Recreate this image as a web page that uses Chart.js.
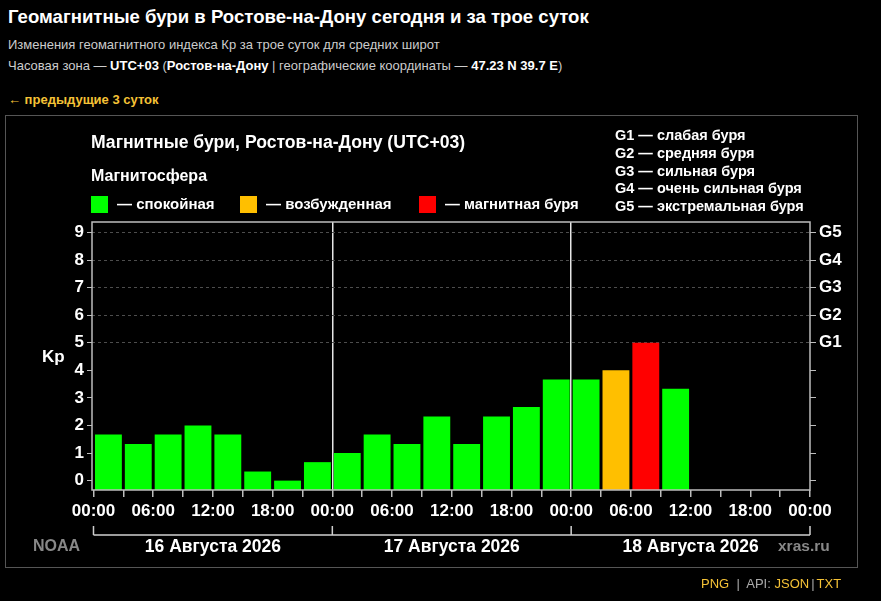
<!DOCTYPE html>
<html>
<head>
<meta charset="utf-8">
<script src="https://cdn.jsdelivr.net/npm/chart.js@4"></script>
<style>
  html, body { margin: 0; padding: 0; background: #000; }
  body { width: 881px; height: 601px; position: relative; overflow: hidden;
         font-family: "Liberation Sans", Arial, sans-serif; color: #fff; }
  .abs { position: absolute; white-space: nowrap; }
  .h1 { left: 8px; top: 5px; font-size: 18.6px; font-weight: bold; line-height: 24px; }
  .sub { left: 8px; font-size: 13px; color: #ccc; line-height: 16px; }
  .sub b { color: #fff; }
  .link { color: #f5c236; }
  #panel { position: absolute; left: 5px; top: 115px; width: 851px; height: 451px; border: 1px solid #555; }
  .sq { position: absolute; width: 17px; height: 17px; top: 196px; }
  .lg { font-size: 15px; font-weight: bold; line-height: 18px; }
  .glist { left: 615px; top: 127px; font-size: 14.5px; font-weight: bold; line-height: 17.8px; }
  .gray { color: #888; font-weight: bold; font-size: 16px; }
  canvas { position: absolute; left: 0; top: 0; }
</style>
</head>
<body>
<div class="abs h1">Геомагнитные бури в Ростове-на-Дону сегодня и за трое суток</div>
<div class="abs sub" style="top:37px">Изменения геомагнитного индекса Кр за трое суток для средних широт</div>
<div class="abs sub" style="top:58px">Часовая зона — <b>UTC+03</b> (<b>Ростов-на-Дону</b> | географические координаты — <b>47.23 N 39.7 E</b>)</div>
<div class="abs sub link" style="top:92px;font-weight:bold">← предыдущие 3 суток</div>

<div id="panel"></div>
<canvas id="kpChart" width="881" height="601"></canvas>

<div class="abs" style="left:91px;top:132px;font-size:17.6px;font-weight:bold;line-height:20px">Магнитные бури, Ростов-на-Дону (UTC+03)</div>
<div class="abs" style="left:91px;top:166px;font-size:16px;font-weight:bold;line-height:20px">Магнитосфера</div>
<div class="sq" style="left:91px;background:#00ff00"></div>
<div class="abs lg" style="left:117px;top:195px">— спокойная</div>
<div class="sq" style="left:240px;background:#ffbf00"></div>
<div class="abs lg" style="left:266px;top:195px">— возбужденная</div>
<div class="sq" style="left:419px;background:#ff0000"></div>
<div class="abs lg" style="left:445px;top:195px;font-size:14.8px">— магнитная буря</div>
<div class="abs glist">G1 — слабая буря<br>G2 — средняя буря<br>G3 — сильная буря<br>G4 — очень сильная буря<br>G5 — экстремальная буря</div>

<div class="abs" style="left:42px;top:347px;font-size:17px;font-weight:bold;line-height:20px">Kp</div>
<div class="abs gray" style="left:33px;top:537px">NOAA</div>
<div class="abs gray" style="left:778px;top:537px;font-size:15.5px">xras.ru</div>

<div class="abs" style="left:701px;top:576px;font-size:13px;color:#aaa;line-height:16px"><span class="link">PNG</span> &nbsp;|&nbsp; API: <span class="link">JSON</span><span style="margin:0 2px">|</span><span class="link">TXT</span></div>

<script>
// Kp index, one value per 3-hour interval (UTC+03), starting 16 Aug 00:00
const kpValues = [
    1.67, 1.33, 1.67, 2.0, 1.67, 0.33, 0.0, 0.67,
    1.0, 1.67, 1.33, 2.33, 1.33, 2.33, 2.67, 3.67,
    3.67, 4.0, 5.0, 3.33
];
const dayLabels = ['16 Августа 2026', '17 Августа 2026', '18 Августа 2026'];
const stormLabels = ['G1', 'G2', 'G3', 'G4', 'G5'];
const kpTicks = [0, 1, 2, 3, 4, 5, 6, 7, 8, 9];

const Y_MIN = -0.34;
const Y_MAX = 9.38;

function kpColor(v) {
    if (v >= 5) return '#ff0000';
    if (v >= 4) return '#ffbf00';
    return '#00ff00';
}

function hourLabel(h) {
    const hh = h % 24;
    return (hh < 10 ? '0' : '') + hh + ':00';
}

// frame round the plot area, plus the day bracket under the time labels
const framePlugin = {
    id: 'frame',
    afterDraw(chart) {
        const ctx = chart.ctx;
        const a = chart.chartArea;
        const x = chart.scales.x;
        ctx.save();
        ctx.strokeStyle = '#bdbdbd';
        ctx.lineWidth = 1.5;
        ctx.strokeRect(a.left, a.top, a.right - a.left, a.bottom - a.top);

        const yLine = 535;
        ctx.strokeStyle = '#cfcfcf';
        ctx.lineWidth = 1.5;
        ctx.beginPath();
        ctx.moveTo(x.getPixelForValue(0), yLine);
        ctx.lineTo(x.getPixelForValue(72), yLine);
        for (let d = 0; d <= 3; d++) {
            const px = x.getPixelForValue(d * 24);
            ctx.moveTo(px, yLine);
            ctx.lineTo(px, yLine - 9);
        }
        ctx.stroke();

        ctx.fillStyle = '#fff';
        ctx.font = 'bold 17.5px "Liberation Sans", Arial, sans-serif';
        ctx.textAlign = 'center';
        ctx.textBaseline = 'middle';
        dayLabels.forEach((lbl, i) => {
            ctx.fillText(lbl, x.getPixelForValue(i * 24 + 12), 547);
        });
        ctx.restore();
    }
};

const tickFont = { family: '"Liberation Sans", Arial, sans-serif', size: 17, weight: 'bold' };

const ctx = document.getElementById('kpChart').getContext('2d');
const chart = new Chart(ctx, {
    type: 'bar',
    data: {
        datasets: [{
            data: kpValues.map((v, i) => ({ x: 1.5 + i * 3, y: v })),
            backgroundColor: kpValues.map(kpColor),
            borderWidth: 0,
            base: Y_MIN,
            barPercentage: 0.9,
            categoryPercentage: 1.0
        }]
    },
    options: {
        responsive: false,
        animation: false,
        devicePixelRatio: 1,
        layout: { padding: { left: 52, right: 21, top: 222, bottom: 81 } },
        plugins: { legend: { display: false }, tooltip: { enabled: false }, title: { display: false } },
        scales: {
            x: {
                type: 'linear',
                offset: false,
                min: -0.15,
                max: 72,
                afterBuildTicks: s => { s.ticks = []; for (let h = 0; h <= 72; h += 3) s.ticks.push({ value: h }); },
                afterFit: s => { s.height = 30; },
                ticks: {
                    autoSkip: false,
                    maxRotation: 0,
                    color: '#fff',
                    font: tickFont,
                    padding: 4,
                    callback: v => (v % 6 === 0 ? hourLabel(v) : '')
                },
                grid: {
                    offset: false,
                    color: c => (c.tick && (c.tick.value === 24 || c.tick.value === 48) ? '#e6e6e6' : 'rgba(0,0,0,0)'),
                    lineWidth: 1.5,
                    tickColor: '#bdbdbd',
                    tickLength: 7
                },
                border: { display: false }
            },
            y: {
                position: 'left',
                min: Y_MIN,
                max: Y_MAX,
                afterBuildTicks: s => { s.ticks = kpTicks.map(v => ({ value: v })); },
                afterFit: s => { s.width = 40; },
                ticks: { color: '#fff', font: tickFont, padding: 3 },
                grid: {
                    color: c => (c.tick && c.tick.value >= 5 ? '#4d4d4d' : 'rgba(0,0,0,0)'),
                    lineWidth: 1,
                    tickColor: '#bdbdbd',
                    tickLength: 5
                },
                border: { display: false, dash: [3, 3] }
            },
            g: {
                position: 'right',
                min: Y_MIN,
                max: Y_MAX,
                afterBuildTicks: s => { s.ticks = kpTicks.map(v => ({ value: v })); },
                afterFit: s => { s.width = 50; },
                ticks: {
                    color: '#fff',
                    font: tickFont,
                    padding: 3,
                    callback: v => (v >= 5 ? stormLabels[v - 5] : '')
                },
                grid: {
                    drawOnChartArea: false,
                    tickColor: '#bdbdbd',
                    tickLength: 6
                },
                border: { display: false }
            }
        }
    },
    plugins: [framePlugin]
});
</script>
</body>
</html>
